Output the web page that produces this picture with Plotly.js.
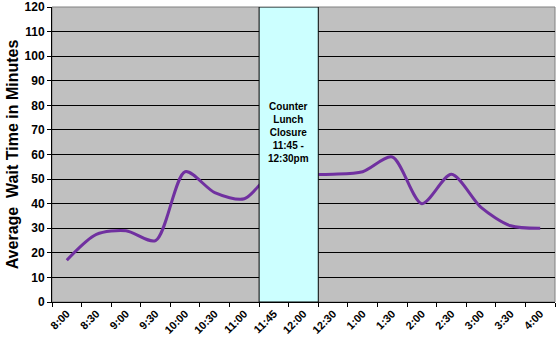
<!DOCTYPE html>
<html><head><meta charset="utf-8">
<script src="https://cdn.plot.ly/plotly-3.0.1.min.js"></script>
<style>body{margin:0;background:#fff}#c{width:560px;height:345px}</style>
</head><body><div id="c"></div>
<script>
const categories = ["8:00","8:30","9:00","9:30","10:00","10:30","11:00","11:45","12:00","12:30","1:00","1:30","2:00","2:30","3:00","3:30","4:00"];
const waitTimes = [17, 27.5, 29, 25, 53, 44.5, 42, 53, 52, 52, 53, 59, 40, 52, 38.5, 31, 30];
const closureStart = "11:45";
const closureEnd = "12:00";
const closureText = "Counter<br>Lunch<br>Closure<br>11:45 -<br>12:30pm";

const i0 = categories.indexOf(closureStart) - 0.5;
const i1 = categories.indexOf(closureEnd) + 0.5;

const trace = {
  x: categories, y: waitTimes, type: "scatter", mode: "lines",
  line: {color: "#7030A0", width: 3, shape: "spline", smoothing: 0.8},
  hoverinfo: "skip"
};
const layout = {
  width: 560, height: 345,
  margin: {l: 52, r: 5, t: 7, b: 43},
  paper_bgcolor: "#ffffff", plot_bgcolor: "#C0C0C0",
  showlegend: false,
  font: {family: "Arial, Liberation Sans, sans-serif", color: "#000"},
  xaxis: {
    type: "category", tickson: "boundaries", range: [-0.5, categories.length - 0.5],
    tickangle: -45, tickfont: {size: 11, family: "Arial, Liberation Sans", weight: "bold"},
    ticks: "outside", ticklen: 4, tickcolor: "#000",
    showgrid: false, showline: true, linecolor: "#000", linewidth: 1, mirror: false, zeroline: false
  },
  yaxis: {
    range: [0, 120], dtick: 10, tick0: 0,
    tickfont: {size: 12, family: "Arial, Liberation Sans", weight: "bold"},
    ticks: "outside", ticklen: 4, tickcolor: "#000",
    showgrid: true, gridcolor: "#000", gridwidth: 1,
    showline: true, linecolor: "#000", linewidth: 1, zeroline: false,
    title: {text: "Average  Wait Time in Minutes", font: {size: 16, family: "Arial, Liberation Sans", weight: "bold"}, standoff: 1}
  },
  shapes: [
    {type: "rect", xref: "paper", yref: "paper", x0: 0, x1: 1, y0: 0, y1: 1,
     line: {color: "#808080", width: 1}, fillcolor: "rgba(0,0,0,0)", layer: "below"},
    {type: "rect", xref: "x", yref: "y", x0: i0, x1: i1, y0: 0, y1: 120,
     fillcolor: "#CCFFFF", line: {color: "#000", width: 1}, layer: "above"}
  ],
  annotations: [
    {x: (i0 + i1) / 2, y: 69, xref: "x", yref: "y", text: closureText, showarrow: false,
     font: {size: 10, family: "Arial, Liberation Sans", weight: "bold", color: "#000"}, align: "center"}
  ]
};
Plotly.newPlot("c", [trace], layout, {staticPlot: true, displayModeBar: false});
</script></body></html>
